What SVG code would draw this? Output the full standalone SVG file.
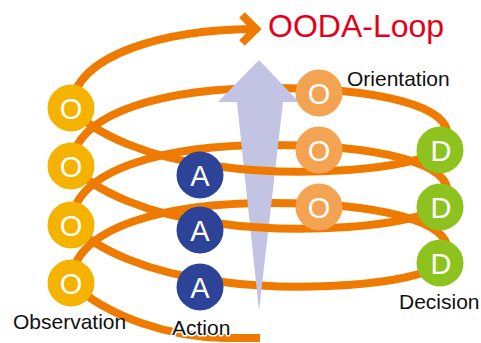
<svg xmlns="http://www.w3.org/2000/svg" width="481" height="343" viewBox="0 0 481 343">
<defs>
<style>
.ln{fill:none;stroke:#EF7A00;stroke-width:8}
.obs{fill:#F5B300}
.ori{fill:#F3A352}
.dec{fill:#8DC21F}
.act{fill:#2D4397}
.let{font-family:"Liberation Sans",Arial,sans-serif;font-size:29px;fill:#fff;text-anchor:middle}
.lbl{font-family:"Liberation Sans",Arial,sans-serif;font-size:21px;fill:#111}
.halo{stroke:#fff;stroke-width:3;paint-order:stroke;stroke-linejoin:round}
</style>
<path id="back" d="M71,166 C75,110 170,88 270,88 C375,88 455,105 447,140"/>
<path id="front" d="M440,150 C410,170 300,178 215,166 C150,158 95,135 71,108"/>
</defs>
<g id="connectors-back">
<path class="ln" d="M71,108 C75,52 170,30 252,29"/>
<polyline class="ln" points="242,15 256,29 242,43" stroke-width="7" stroke-linejoin="miter"/>
<use href="#back" class="ln"/>
<use href="#back" class="ln" transform="translate(0,57)"/>
<use href="#back" class="ln" transform="translate(0,115)"/>
<use href="#front" class="ln" transform="translate(0,115)"/>
<path class="ln" d="M260,338 L225,338 C170,337 110,318 71,283"/>
</g>
<g id="axis-arrow">
<polygon points="259,60 299,102 283,102 259,311 237,102 218,102" fill="#C3C3E3"/>
</g>
<g id="connectors-front">
<use href="#front" class="ln"/>
<use href="#front" class="ln" transform="translate(0,57)"/>
</g>
<g id="obs1"><circle class="obs" cx="71" cy="108" r="23.5"/><text class="let" x="71" y="118.5">O</text></g>
<g id="obs2"><circle class="obs" cx="71" cy="166" r="23.5"/><text class="let" x="71" y="176.5">O</text></g>
<g id="obs3"><circle class="obs" cx="71" cy="225" r="23.5"/><text class="let" x="71" y="235.5">O</text></g>
<g id="obs4"><circle class="obs" cx="71" cy="283" r="23.5"/><text class="let" x="71" y="293.5">O</text></g>
<g id="ori1"><circle class="ori" cx="319" cy="93" r="23.5"/><text class="let" x="319" y="103.5">O</text></g>
<g id="ori2"><circle class="ori" cx="319" cy="150" r="23.5"/><text class="let" x="319" y="160.5">O</text></g>
<g id="ori3"><circle class="ori" cx="319" cy="207" r="23.5"/><text class="let" x="319" y="217.5">O</text></g>
<g id="dec1"><circle class="dec" cx="440" cy="150" r="23.5"/><text class="let" x="441" y="160.5">D</text></g>
<g id="dec2"><circle class="dec" cx="440" cy="207" r="23.5"/><text class="let" x="441" y="217.5">D</text></g>
<g id="dec3"><circle class="dec" cx="440" cy="263" r="23.5"/><text class="let" x="441" y="273.5">D</text></g>
<g id="act1"><circle class="act" cx="200" cy="175" r="23.5"/><text class="let" x="200" y="185.5">A</text></g>
<g id="act2"><circle class="act" cx="200" cy="230" r="23.5"/><text class="let" x="200" y="240.5">A</text></g>
<g id="act3"><circle class="act" cx="200" cy="287" r="23.5"/><text class="let" x="200" y="297.5">A</text></g>
<g id="labels">
<text x="268" y="37" font-family="'Liberation Sans',Arial,sans-serif" font-size="32" fill="#E50019">OODA-Loop</text>
<text class="lbl" x="347" y="86">Orientation</text>
<text class="lbl" x="13" y="329">Observation</text>
<text class="lbl halo" x="172" y="335">Action</text>
<text class="lbl" x="399" y="309">Decision</text>
</g>
</svg>
